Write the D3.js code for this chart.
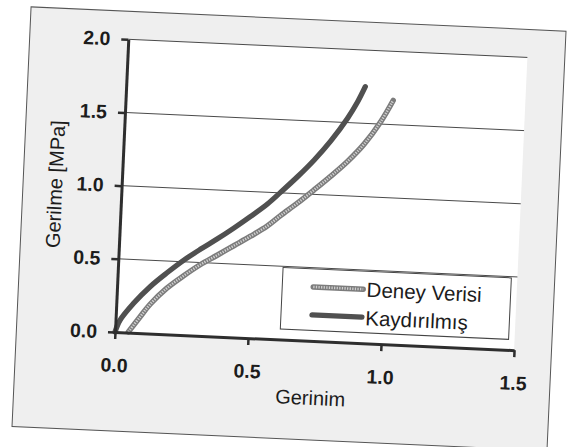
<!DOCTYPE html>
<html>
<head>
<meta charset="utf-8">
<script src="https://cdn.jsdelivr.net/npm/d3@7"></script>
<style>
  html, body { margin: 0; padding: 0; background: #ffffff; }
  svg { display: block; }
  text { font-family: "Liberation Sans", Arial, Helvetica, sans-serif; fill: #1c1c1c; }
</style>
</head>
<body>
<svg id="chart" width="579" height="447"></svg>
<script>
// Stress–strain curves: measured data and the shifted curve
const seriesNames = ["Deney Verisi", "Kaydırılmış"];

const deneyStrain = [0.050, 0.091, 0.127, 0.187, 0.248, 0.308, 0.370, 0.431, 0.492, 0.553, 0.601, 0.662, 0.722, 0.783, 0.843, 0.903, 0.962, 1.004];
const deneyStress = [0.005, 0.11, 0.20, 0.315, 0.405, 0.485, 0.555, 0.625, 0.695, 0.77, 0.845, 0.935, 1.03, 1.13, 1.235, 1.36, 1.52, 1.665];

const kaydStrain = [0.000, 0.017, 0.064, 0.124, 0.185, 0.245, 0.306, 0.367, 0.428, 0.489, 0.550, 0.598, 0.658, 0.718, 0.777, 0.836, 0.871, 0.897];
const kaydStress = [0.000, 0.083, 0.20, 0.32, 0.42, 0.51, 0.59, 0.665, 0.745, 0.83, 0.92, 1.005, 1.115, 1.235, 1.37, 1.53, 1.645, 1.75];

const xTickValues = [0, 0.5, 1.0, 1.5];
const yTickValues = [0, 0.5, 1.0, 1.5, 2.0];
const xTitle = "Gerinim";
const yTitle = "Gerilme [MPa]";

const deneyData = deneyStrain.map((s, i) => [s, deneyStress[i]]);
const kaydData = kaydStrain.map((s, i) => [s, kaydStress[i]]);

const svg = d3.select("#chart");

// The whole figure sits slightly tilted on the page
const origin = { x: 115, y: 332 };
const plotW = 399.5, plotH = 293;
const tilt = 2.6;

const g = svg.append("g")
  .attr("transform", `rotate(${tilt},${origin.x},${origin.y}) translate(${origin.x},${origin.y - plotH})`);

const x = d3.scaleLinear().domain([0, 1.5]).range([0, plotW]);
const y = d3.scaleLinear().domain([0, 2.0]).range([plotH, 0]);

// Outer chart frame with its light grey background
g.append("rect")
  .attr("x", -98.6).attr("y", -28)
  .attr("width", 535.5).attr("height", 420)
  .attr("fill", "#efefef")
  .attr("stroke", "#555")
  .attr("stroke-width", 1);

// White plotting area
g.append("rect")
  .attr("x", 0).attr("y", 0)
  .attr("width", plotW).attr("height", plotH)
  .attr("fill", "#ffffff");

// Horizontal gridlines
g.append("g")
  .selectAll("line")
  .data(yTickValues.filter(v => v > 0))
  .join("line")
  .attr("x1", 0).attr("x2", x(1.5))
  .attr("y1", d => y(d)).attr("y2", d => y(d))
  .attr("stroke", "#3a3a3a")
  .attr("stroke-width", 0.9);

// Curves
const line = d3.line()
  .x(d => x(d[0]))
  .y(d => y(d[1]))
  .curve(d3.curveCatmullRom.alpha(0.5));

// Measured data: textured grey stroke
g.append("path")
  .datum(deneyData)
  .attr("d", line)
  .attr("fill", "none")
  .attr("stroke", "#7c7c7c")
  .attr("stroke-width", 5.5)
  .attr("stroke-linecap", "round");
g.append("path")
  .datum(deneyData)
  .attr("d", line)
  .attr("fill", "none")
  .attr("stroke", "#cfcfcf")
  .attr("stroke-width", 2.6)
  .attr("stroke-dasharray", "1.3,1.3");

// Shifted curve: solid dark stroke
g.append("path")
  .datum(kaydData)
  .attr("d", line)
  .attr("fill", "none")
  .attr("stroke", "#505050")
  .attr("stroke-width", 5.3)
  .attr("stroke-linecap", "round");

// Legend
const legend = g.append("g");
legend.append("rect")
  .attr("x", 165).attr("y", plotH - 72)
  .attr("width", 228.5).attr("height", 61.5)
  .attr("fill", "#ffffff")
  .attr("stroke", "#444")
  .attr("stroke-width", 1);

const legendRows = [
  { name: seriesNames[0], cy: plotH - 54, base: plotH - 46.6, kind: "deney" },
  { name: seriesNames[1], cy: plotH - 26, base: plotH - 18.2, kind: "kayd" }
];
legendRows.forEach(r => {
  if (r.kind === "deney") {
    legend.append("line")
      .attr("x1", 196).attr("x2", 246).attr("y1", r.cy).attr("y2", r.cy)
      .attr("stroke", "#7c7c7c").attr("stroke-width", 5.5).attr("stroke-linecap", "round");
    legend.append("line")
      .attr("x1", 196).attr("x2", 246).attr("y1", r.cy).attr("y2", r.cy)
      .attr("stroke", "#cfcfcf").attr("stroke-width", 2.6).attr("stroke-dasharray", "1.3,1.3");
  } else {
    legend.append("line")
      .attr("x1", 196).attr("x2", 246).attr("y1", r.cy).attr("y2", r.cy)
      .attr("stroke", "#505050").attr("stroke-width", 5.3).attr("stroke-linecap", "round");
  }
  legend.append("text")
    .attr("x", 249.5).attr("y", r.base)
    .attr("font-size", 20.5)
    .text(r.name);
});

// Axes
const fmt = d3.format(".1f");
const yAxis = g.append("g")
  .call(d3.axisLeft(y).tickValues(yTickValues).tickFormat(fmt).tickSize(7).tickSizeOuter(0).tickPadding(11));
const xAxis = g.append("g")
  .attr("transform", `translate(0,${plotH})`)
  .call(d3.axisBottom(x).tickValues(xTickValues).tickFormat(fmt).tickSize(7).tickSizeOuter(0).tickPadding(19));

[yAxis, xAxis].forEach(ax => {
  ax.select(".domain").attr("stroke", "#2e2e2e").attr("stroke-width", 3);
  ax.selectAll(".tick line").attr("stroke", "#2e2e2e").attr("stroke-width", 2.5);
  ax.selectAll(".tick text")
    .attr("fill", "#1c1c1c")
    .style("font-family", "\"Liberation Sans\", Arial, sans-serif")
    .style("font-size", "19.5px")
    .style("font-weight", "bold");
});

// Axis titles
g.append("text")
  .attr("x", 198).attr("y", plotH + 64)
  .attr("text-anchor", "middle")
  .attr("font-size", 20)
  .text(xTitle);

g.append("text")
  .attr("transform", `translate(-66.5,${plotH - 145}) rotate(-90)`)
  .attr("text-anchor", "middle")
  .attr("dy", "0.36em")
  .attr("font-size", 20)
  .text(yTitle);
</script>
</body>
</html>
